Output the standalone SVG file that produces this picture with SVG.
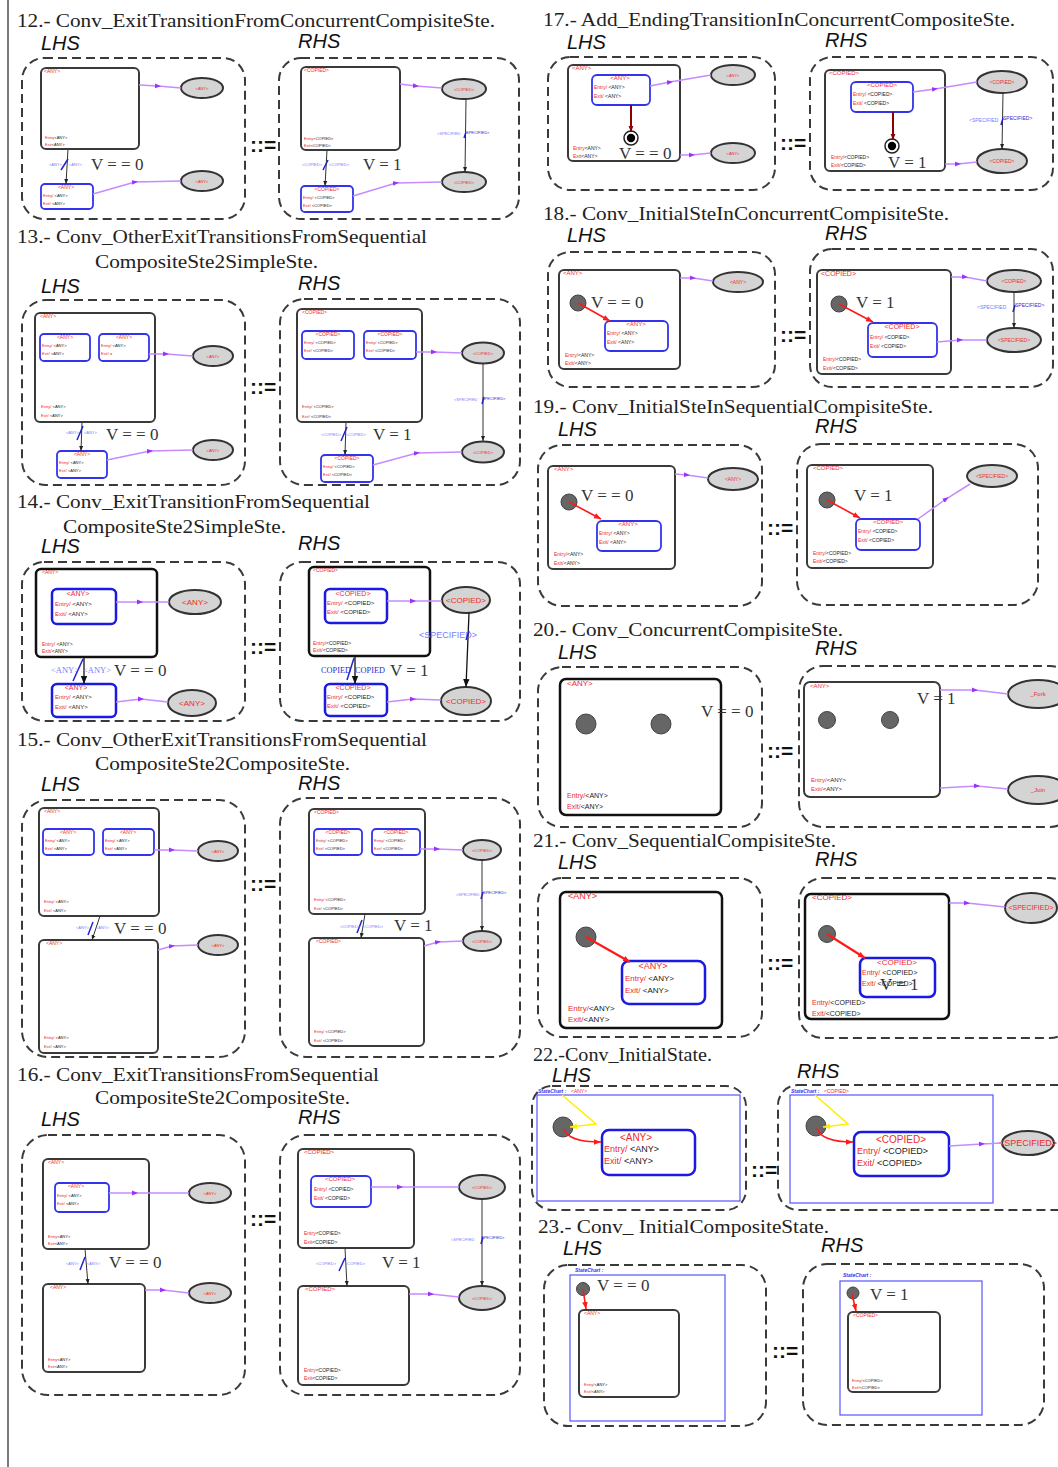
<svg xmlns="http://www.w3.org/2000/svg" width="1058" height="1467" viewBox="0 0 1058 1467">
<defs>
<style>
text{font-family:"Liberation Sans",Arial,sans-serif}
.ti{font-family:"Liberation Serif","Times New Roman",serif;font-size:19px;fill:#222}
.hs{font-style:italic;font-size:20px;fill:#111}
.v{font-family:"Liberation Serif","Times New Roman",serif;font-size:17px;fill:#333}
.eq{font-weight:bold;font-size:21px;fill:#111}
.r{fill:#ee2b2b}.k{fill:#222}.lb{fill:#7b7bff}.db{fill:#2b2bd0}
.z4{font-size:4px}.z5{font-size:5px}.z6{font-size:6px}.z7{font-size:7px}.z8{font-size:8px}.z9{font-size:9px}.z10{font-size:10px}
.c{text-anchor:middle}
.sc{font-style:italic;font-weight:bold;fill:#3333ee;font-size:5px}
.ser{font-family:"Liberation Serif",serif}
.dash{fill:none;stroke:#3a3a3a;stroke-width:2;stroke-dasharray:9 5}
.st{fill:#fff;stroke:#3a3a3a;stroke-width:2}
.stk{fill:#fff;stroke:#111;stroke-width:2.5}
.sub{fill:#fff;stroke:#3333ee;stroke-width:1.8}
.subk{fill:#fff;stroke:#1a1ae0;stroke-width:2.5}
.el{fill:#d4d4d4;stroke:#333;stroke-width:2}
.pu{fill:none;stroke:#c58bff;stroke-width:1.5;marker-mid:url(#mp)}
.bk{fill:none;stroke:#333;stroke-width:1;marker-end:url(#mb)}
.bk2{fill:none;stroke:#111;stroke-width:1.3;marker-end:url(#mb2)}
.rd{fill:none;stroke:#ff1a1a;stroke-width:1.6;marker-end:url(#mr)}
.rd2{fill:none;stroke:#ff1a1a;stroke-width:2.2;marker-end:url(#mr)}
.drd{fill:none;stroke:#8b0000;stroke-width:2;marker-end:url(#md)}
.yl{fill:none;stroke:#ffee00;stroke-width:1.5;marker-end:url(#my)}
.sl{stroke:#2222cc;stroke-width:1.5}
.ini{fill:#666;stroke:#444;stroke-width:1}
.bc{fill:none;stroke:#5555ff;stroke-width:1.2}
</style>
<marker id="mp" viewBox="0 0 10 10" refX="5" refY="5" markerWidth="6" markerHeight="6" markerUnits="userSpaceOnUse" orient="auto"><path d="M0,1 L10,5 L0,9 z" fill="#9b30ff"/></marker>
<marker id="mb" viewBox="0 0 10 10" refX="10" refY="5" markerWidth="5" markerHeight="5" markerUnits="userSpaceOnUse" orient="auto"><path d="M0,1 L10,5 L0,9 z" fill="#222"/></marker>
<marker id="mb2" viewBox="0 0 10 10" refX="10" refY="5" markerWidth="8" markerHeight="8" markerUnits="userSpaceOnUse" orient="auto"><path d="M0,1 L10,5 L0,9 z" fill="#111"/></marker>
<marker id="mr" viewBox="0 0 10 10" refX="10" refY="5" markerWidth="7" markerHeight="7" markerUnits="userSpaceOnUse" orient="auto"><path d="M0,1 L10,5 L0,9 z" fill="#ff1a1a"/></marker>
<marker id="md" viewBox="0 0 10 10" refX="10" refY="5" markerWidth="6" markerHeight="6" markerUnits="userSpaceOnUse" orient="auto"><path d="M0,1 L10,5 L0,9 z" fill="#8b0000"/></marker>
<marker id="my" viewBox="0 0 10 10" refX="10" refY="5" markerWidth="7" markerHeight="7" markerUnits="userSpaceOnUse" orient="auto"><path d="M0,1 L10,5 L0,9 z" fill="#ffee00"/></marker>
</defs>
<rect width="1058" height="1467" fill="#fff"/>
<line x1="8" y1="0" x2="8" y2="1467" stroke="#222" stroke-width="1.2"/>

<!-- ===== Rule 12 ===== -->
<g id="rule12">
<text class="ti" x="17" y="27" textLength="478" lengthAdjust="spacingAndGlyphs">12.- Conv_ExitTransitionFromConcurrentCompisiteSte.</text>
<text class="hs" x="41" y="50">LHS</text><text class="hs" x="298" y="48">RHS</text>
<rect class="dash" x="22" y="58" width="223" height="161" rx="22"/>
<rect class="dash" x="279" y="58" width="240" height="161" rx="22"/>
<text class="eq" x="250" y="152">::=</text>
<g id="r12L-state"><rect class="st" x="41" y="68" width="98" height="81" rx="5"/><text class="r z5" x="44" y="73">&lt;ANY&gt;</text><text class="z4" x="45" y="139"><tspan class="r">Entry</tspan><tspan class="k">&lt;ANY&gt;</tspan></text><text class="z4" x="45" y="146"><tspan class="r">Exit</tspan><tspan class="k">&lt;ANY&gt;</tspan></text></g>
<g id="r12L-e1"><ellipse class="el" cx="202" cy="88" rx="21" ry="10"/><text class="r z4 c" x="202" y="90">&lt;ANY&gt;</text></g>
<g id="r12L-sub"><rect class="sub" x="41" y="184" width="52" height="25" rx="4"/><text class="r z5 c" x="66" y="189">&lt;ANY&gt;</text><text class="z4" x="43" y="197"><tspan class="r">Entry/</tspan><tspan class="k"> &lt;ANY&gt;</tspan></text><text class="z4" x="43" y="205"><tspan class="r">Exit/</tspan><tspan class="k"> &lt;ANY&gt;</tspan></text></g>
<g id="r12L-e2"><ellipse class="el" cx="202" cy="181" rx="21" ry="10"/><text class="r z4 c" x="202" y="183">&lt;ANY&gt;</text></g>
<text class="v" x="91" y="170">V = = 0</text>
<g id="r12R-state"><rect class="st" x="301" y="67" width="99" height="83" rx="5"/><text class="r z5" x="304" y="72">&lt;COPIED&gt;</text><text class="z4" x="304" y="140"><tspan class="r">Entry</tspan><tspan class="k">&lt;COPIED&gt;</tspan></text><text class="z4" x="304" y="147"><tspan class="r">Exit</tspan><tspan class="k">&lt;COPIED&gt;</tspan></text></g>
<g id="r12R-e1"><ellipse class="el" cx="464" cy="89" rx="22" ry="10"/><text class="r z4 c" x="464" y="91">&lt;COPIED&gt;</text></g>
<g id="r12R-sub"><rect class="sub" x="301" y="186" width="52" height="26" rx="4"/><text class="r z5 c" x="327" y="191">&lt;COPIED&gt;</text><text class="z4" x="303" y="199"><tspan class="r">Entry/</tspan><tspan class="k"> &lt;COPIED&gt;</tspan></text><text class="z4" x="303" y="207"><tspan class="r">Exit/</tspan><tspan class="k"> &lt;COPIED&gt;</tspan></text></g>
<g id="r12R-e2"><ellipse class="el" cx="464" cy="182" rx="22" ry="10"/><text class="r z4 c" x="464" y="184">&lt;COPIED&gt;</text></g>
<text class="v" x="363" y="170">V = 1</text>
<g id="r12-conn">
<path class="pu" d="M139,85 L158,86 L181,88"/>
<path class="pu" d="M93,194 L135,182 L181,181"/>
<path class="bk" d="M68,149 L66,184"/>
<line class="sl" x1="61" y1="170" x2="68" y2="159"/>
<text class="lb z4" x="49" y="166">&lt;ANY&gt;</text><text class="lb z4" x="69" y="166">&lt;ANY&gt;</text>
<path class="pu" d="M400,84 L416,86 L442,88"/>
<path class="pu" d="M353,196 L396,183 L442,182"/>
<path class="bk" d="M327,150 L325,186"/>
<line class="sl" x1="323" y1="170" x2="328" y2="160"/>
<text class="lb z4" x="302" y="166">&lt;COPIED&gt;</text><text class="lb z4" x="329" y="166">&lt;COPIED&gt;</text>
<path class="bk" d="M466,99 L465,172"/>
<text class="lb z4" x="437" y="135">&lt;SPECIFIED</text><text class="db z4" x="466" y="134">SPECIFIED&gt;</text>
<line class="sl" x1="464" y1="138" x2="466" y2="132"/>
</g>
</g>

<!-- ===== Rule 13 ===== -->
<g id="rule13">
<text class="ti" x="17" y="243" textLength="410" lengthAdjust="spacingAndGlyphs">13.- Conv_OtherExitTransitionsFromSequential</text>
<text class="ti" x="95" y="268" textLength="223" lengthAdjust="spacingAndGlyphs">CompositeSte2SimpleSte.</text>
<text class="hs" x="41" y="293">LHS</text><text class="hs" x="298" y="290">RHS</text>
<rect class="dash" x="22" y="300" width="223" height="185" rx="24"/>
<rect class="dash" x="280" y="299" width="240" height="186" rx="24"/>
<text class="eq" x="250" y="394">::=</text>
<g id="r13L-state"><rect class="st" x="35" y="313" width="120" height="109" rx="5"/><text class="r z5" x="40" y="318">&lt;ANY&gt;</text><text class="z4" x="41" y="408"><tspan class="r">Entry/</tspan><tspan class="k"> &lt;ANY&gt;</tspan></text><text class="z4" x="41" y="417"><tspan class="r">Exit/</tspan><tspan class="k"> &lt;ANY&gt;</tspan></text></g>
<g id="r13L-sub1"><rect class="sub" x="40" y="334" width="50" height="27" rx="4"/><text class="r z5 c" x="65" y="339">&lt;ANY&gt;</text><text class="z4" x="42" y="347"><tspan class="r">Entry/</tspan><tspan class="k"> &lt;ANY&gt;</tspan></text><text class="z4" x="42" y="355"><tspan class="r">Exit/</tspan><tspan class="k"> &lt;ANY&gt;</tspan></text></g>
<g id="r13L-sub2"><rect class="sub" x="99" y="334" width="50" height="27" rx="4"/><text class="r z5 c" x="124" y="339">&lt;ANY&gt;</text><text class="z4" x="101" y="347"><tspan class="r">Entry/</tspan><tspan class="k"> &lt;ANY&gt;</tspan></text><text class="z4" x="101" y="355"><tspan class="r">Exit/</tspan><tspan class="k"> v</tspan></text></g>
<g id="r13L-e1"><ellipse class="el" cx="213" cy="356" rx="20" ry="10"/><text class="r z4 c" x="213" y="358">&lt;ANY&gt;</text></g>
<g id="r13L-sub3"><rect class="sub" x="57" y="451" width="50" height="27" rx="4"/><text class="r z5 c" x="82" y="456">&lt;ANY&gt;</text><text class="z4" x="59" y="464"><tspan class="r">Entry/</tspan><tspan class="k"> &lt;ANY&gt;</tspan></text><text class="z4" x="59" y="472"><tspan class="r">Exit/</tspan><tspan class="k"> &lt;ANY&gt;</tspan></text></g>
<g id="r13L-e2"><ellipse class="el" cx="213" cy="450" rx="20" ry="10"/><text class="r z4 c" x="213" y="452">&lt;ANY&gt;</text></g>
<text class="v" x="106" y="440">V = = 0</text>
<g id="r13R-state"><rect class="st" x="297" y="309" width="125" height="113" rx="5"/><text class="r z5" x="302" y="314">&lt;COPIED&gt;</text><text class="z4" x="302" y="408"><tspan class="r">Entry/</tspan><tspan class="k"> &lt;COPIED&gt;</tspan></text><text class="z4" x="302" y="418"><tspan class="r">Exit/</tspan><tspan class="k"> &lt;COPIED&gt;</tspan></text></g>
<g id="r13R-sub1"><rect class="sub" x="302" y="331" width="52" height="28" rx="4"/><text class="r z5 c" x="328" y="336">&lt;COPIED&gt;</text><text class="z4" x="304" y="344"><tspan class="r">Entry/</tspan><tspan class="k"> &lt;COPIED&gt;</tspan></text><text class="z4" x="304" y="352"><tspan class="r">Exit/</tspan><tspan class="k"> &lt;COPIED&gt;</tspan></text></g>
<g id="r13R-sub2"><rect class="sub" x="364" y="331" width="52" height="28" rx="4"/><text class="r z5 c" x="390" y="336">&lt;COPIED&gt;</text><text class="z4" x="366" y="344"><tspan class="r">Entry/</tspan><tspan class="k"> &lt;COPIED&gt;</tspan></text><text class="z4" x="366" y="352"><tspan class="r">Exit/</tspan><tspan class="k"> &lt;COPIED&gt;</tspan></text></g>
<g id="r13R-e1"><ellipse class="el" cx="483" cy="353" rx="21" ry="10.5"/><text class="r z4 c" x="483" y="355">&lt;COPIED&gt;</text></g>
<g id="r13R-sub3"><rect class="sub" x="321" y="455" width="52" height="27" rx="4"/><text class="r z5 c" x="347" y="460">&lt;COPIED&gt;</text><text class="z4" x="323" y="468"><tspan class="r">Entry/</tspan><tspan class="k"> &lt;COPIED&gt;</tspan></text><text class="z4" x="323" y="476"><tspan class="r">Exit/</tspan><tspan class="k"> &lt;COPIED&gt;</tspan></text></g>
<g id="r13R-e2"><ellipse class="el" cx="483" cy="452" rx="21" ry="10.5"/><text class="r z4 c" x="483" y="454">&lt;COPIED&gt;</text></g>
<text class="v" x="373" y="440">V = 1</text>
<g id="r13-conn">
<path class="pu" d="M149,354 L166,354 L193,356"/>
<path class="pu" d="M107,460 L150,451 L193,450"/>
<path class="bk" d="M82,422 L81,451"/>
<line class="sl" x1="77" y1="440" x2="83" y2="426"/>
<text class="lb z4" x="66" y="434">&lt;ANY&gt;</text><text class="lb z4" x="84" y="434">&lt;ANY&gt;</text>
<path class="pu" d="M416,352 L434,352 L462,353"/>
<path class="pu" d="M373,465 L417,453 L462,452"/>
<path class="bk" d="M346,422 L345,455"/>
<line class="sl" x1="341" y1="441" x2="347" y2="427"/>
<text class="lb z4" x="321" y="436">&lt;COPIED&gt;</text><text class="lb z4" x="346" y="436">&lt;COPIED&gt;</text>
<path class="bk" d="M483,364 L483,441"/>
<text class="lb z4" x="454" y="401">&lt;SPECIFIED</text><text class="db z4" x="482" y="400">SPECIFIED&gt;</text>
<line class="sl" x1="482" y1="404" x2="484" y2="397"/>
</g>
</g>

<!-- ===== Rule 14 ===== -->
<g id="rule14">
<text class="ti" x="17" y="508" textLength="353" lengthAdjust="spacingAndGlyphs">14.- Conv_ExitTransitionFromSequential</text>
<text class="ti" x="63" y="533" textLength="223" lengthAdjust="spacingAndGlyphs">CompositeSte2SimpleSte.</text>
<text class="hs" x="41" y="553">LHS</text><text class="hs" x="298" y="550">RHS</text>
<rect class="dash" x="22" y="562" width="223" height="159" rx="22"/>
<rect class="dash" x="280" y="562" width="240" height="159" rx="22"/>
<text class="eq" x="250" y="654">::=</text>
<g id="r14L-state"><rect class="stk" x="36" y="569" width="121" height="88" rx="5"/><text class="r z5" x="42" y="574">&lt;ANY&gt;</text><text class="z5" x="42" y="646"><tspan class="r">Entry/</tspan><tspan class="k"> &lt;ANY&gt;</tspan></text><text class="z5" x="42" y="653"><tspan class="r">Exit/</tspan><tspan class="k">&lt;ANY&gt;</tspan></text></g>
<g id="r14L-sub1"><rect class="subk" x="52" y="589" width="64" height="35" rx="5"/><text class="r z7 c" x="78" y="596">&lt;ANY&gt;</text><text class="z6" x="55" y="606"><tspan class="r">Entry/</tspan><tspan class="k">  &lt;ANY&gt;</tspan></text><text class="z6" x="55" y="616"><tspan class="r">Exit/</tspan><tspan class="k"> &lt;ANY&gt;</tspan></text></g>
<g id="r14L-e1"><ellipse class="el" cx="195" cy="602" rx="26" ry="12"/><text class="r z8 c" x="195" y="605">&lt;ANY&gt;</text></g>
<g id="r14L-sub2"><rect class="subk" x="52" y="684" width="64" height="33" rx="5"/><text class="r z7 c" x="76" y="690">&lt;ANY&gt;</text><text class="z6" x="55" y="699"><tspan class="r">Entry/</tspan><tspan class="k">  &lt;ANY&gt;</tspan></text><text class="z6" x="55" y="709"><tspan class="r">Exit/</tspan><tspan class="k">  &lt;ANY&gt;</tspan></text></g>
<g id="r14L-e2"><ellipse class="el" cx="192" cy="703" rx="24" ry="13"/><text class="r z8 c" x="192" y="706">&lt;ANY&gt;</text></g>
<text class="v" x="114" y="676">V = = 0</text>
<g id="r14R-state"><rect class="stk" x="309" y="567" width="121" height="89" rx="5"/><text class="r z5" x="313" y="572">&lt;COPIED&gt;</text><text class="z5" x="313" y="645"><tspan class="r">Entry/</tspan><tspan class="k">&lt;COPIED&gt;</tspan></text><text class="z5" x="313" y="652"><tspan class="r">Exit/</tspan><tspan class="k">&lt;COPIED&gt;</tspan></text></g>
<g id="r14R-sub1"><rect class="subk" x="325" y="589" width="62" height="34" rx="5"/><text class="r z7 c" x="353" y="596">&lt;COPIED&gt;</text><text class="z6" x="327" y="605"><tspan class="r">Entry/</tspan><tspan class="k"> &lt;COPIED&gt;</tspan></text><text class="z6" x="327" y="614"><tspan class="r">Exit/</tspan><tspan class="k"> &lt;COPIED&gt;</tspan></text></g>
<g id="r14R-e1"><ellipse class="el" cx="466" cy="600" rx="24" ry="13"/><text class="r z8 c" x="466" y="603">&lt;COPIED&gt;</text></g>
<g id="r14R-sub2"><rect class="subk" x="325" y="684" width="62" height="32" rx="5"/><text class="r z7 c" x="353" y="690">&lt;COPIED&gt;</text><text class="z6" x="327" y="699"><tspan class="r">Entry/</tspan><tspan class="k"> &lt;COPIED&gt;</tspan></text><text class="z6" x="327" y="708"><tspan class="r">Exit/</tspan><tspan class="k"> &lt;COPIED&gt;</tspan></text></g>
<g id="r14R-e2"><ellipse class="el" cx="466" cy="701" rx="25" ry="14"/><text class="r z8 c" x="466" y="704">&lt;COPIED&gt;</text></g>
<text class="v" x="390" y="676">V = 1</text>
<g id="r14-conn">
<path class="pu" d="M116,602 L140,602 L169,602"/>
<path class="pu" d="M116,702 L141,699 L168,702"/>
<path class="bk2" d="M84,657 L84,684"/>
<line class="sl" x1="73" y1="681" x2="83" y2="659" stroke-width="2"/>
<text class="lb z9 ser" x="51" y="673" textLength="28" lengthAdjust="spacingAndGlyphs">&lt;ANY&gt;</text><text class="lb z9 ser" x="83" y="673" textLength="28" lengthAdjust="spacingAndGlyphs">&lt;ANY&gt;</text>
<path class="pu" d="M387,601 L413,601 L442,601"/>
<path class="pu" d="M387,702 L413,699 L441,700"/>
<path class="bk2" d="M355,656 L355,684"/>
<line class="sl" x1="347" y1="680" x2="354" y2="658" stroke-width="2"/>
<text class="db z9 ser" x="321" y="673" textLength="30" lengthAdjust="spacingAndGlyphs">COPIED</text><text class="db z9 ser" x="355" y="673" textLength="30" lengthAdjust="spacingAndGlyphs">COPIED</text>
<path class="bk2" d="M469,613 L466,687"/>
<text class="lb z9" x="419" y="638">&lt;SPECIFIED&gt;</text>
<line class="sl" x1="466" y1="640" x2="469" y2="631"/>
</g>
</g>

<!-- ===== Rule 15 ===== -->
<g id="rule15">
<text class="ti" x="17" y="746" textLength="410" lengthAdjust="spacingAndGlyphs">15.- Conv_OtherExitTransitionsFromSequential</text>
<text class="ti" x="95" y="770" textLength="255" lengthAdjust="spacingAndGlyphs">CompositeSte2CompositeSte.</text>
<text class="hs" x="41" y="791">LHS</text><text class="hs" x="298" y="790">RHS</text>
<rect class="dash" x="22" y="800" width="223" height="257" rx="26"/>
<rect class="dash" x="280" y="798" width="240" height="259" rx="26"/>
<text class="eq" x="250" y="891">::=</text>
<g id="r15L-state1"><rect class="st" x="39" y="808" width="120" height="108" rx="5"/><text class="r z5" x="44" y="813">&lt;ANY&gt;</text><text class="z4" x="44" y="903"><tspan class="r">Entry/</tspan><tspan class="k"> &lt;ANY&gt;</tspan></text><text class="z4" x="44" y="912"><tspan class="r">Exit/</tspan><tspan class="k"> &lt;ANY&gt;</tspan></text></g>
<g id="r15L-sub1"><rect class="sub" x="43" y="829" width="51" height="26" rx="4"/><text class="r z5 c" x="68" y="834">&lt;ANY&gt;</text><text class="z4" x="45" y="842"><tspan class="r">Entry/</tspan><tspan class="k"> &lt;ANY&gt;</tspan></text><text class="z4" x="45" y="850"><tspan class="r">Exit/</tspan><tspan class="k"> &lt;ANY&gt;</tspan></text></g>
<g id="r15L-sub2"><rect class="sub" x="103" y="829" width="51" height="26" rx="4"/><text class="r z5 c" x="128" y="834">&lt;ANY&gt;</text><text class="z4" x="105" y="842"><tspan class="r">Entry/</tspan><tspan class="k"> &lt;ANY&gt;</tspan></text><text class="z4" x="105" y="850"><tspan class="r">Exit/</tspan><tspan class="k"> &lt;ANY&gt;</tspan></text></g>
<g id="r15L-e1"><ellipse class="el" cx="218" cy="851" rx="20" ry="10"/><text class="r z4 c" x="218" y="853">&lt;ANY&gt;</text></g>
<g id="r15L-state2"><rect class="st" x="39" y="940" width="119" height="113" rx="5"/><text class="r z5" x="46" y="945">&lt;ANY&gt;</text><text class="z4" x="44" y="1039"><tspan class="r">Entry/</tspan><tspan class="k"> &lt;ANY&gt;</tspan></text><text class="z4" x="44" y="1048"><tspan class="r">Exit/</tspan><tspan class="k"> &lt;ANY&gt;</tspan></text></g>
<g id="r15L-e2"><ellipse class="el" cx="218" cy="945" rx="20" ry="10"/><text class="r z4 c" x="218" y="947">&lt;ANY&gt;</text></g>
<text class="v" x="114" y="934">V = = 0</text>
<g id="r15R-state1"><rect class="st" x="309" y="809" width="116" height="105" rx="5"/><text class="r z5" x="314" y="814">&lt;COPIED&gt;</text><text class="z4" x="314" y="901"><tspan class="r">Entry/</tspan><tspan class="k"> &lt;COPIED&gt;</tspan></text><text class="z4" x="314" y="910"><tspan class="r">Exit/</tspan><tspan class="k"> &lt;COPIED&gt;</tspan></text></g>
<g id="r15R-sub1"><rect class="sub" x="314" y="829" width="48" height="26" rx="4"/><text class="r z5 c" x="338" y="834">&lt;COPIED&gt;</text><text class="z4" x="316" y="842"><tspan class="r">Entry/</tspan><tspan class="k"> &lt;COPIED&gt;</tspan></text><text class="z4" x="316" y="850"><tspan class="r">Exit/</tspan><tspan class="k"> &lt;COPIED&gt;</tspan></text></g>
<g id="r15R-sub2"><rect class="sub" x="372" y="829" width="48" height="26" rx="4"/><text class="r z5 c" x="396" y="834">&lt;COPIED&gt;</text><text class="z4" x="374" y="842"><tspan class="r">Entry/</tspan><tspan class="k"> &lt;COPIED&gt;</tspan></text><text class="z4" x="374" y="850"><tspan class="r">Exit/</tspan><tspan class="k"> &lt;COPIED&gt;</tspan></text></g>
<g id="r15R-e1"><ellipse class="el" cx="482" cy="850" rx="19" ry="10"/><text class="r z4 c" x="482" y="852">&lt;COPIED&gt;</text></g>
<g id="r15R-state2"><rect class="st" x="309" y="938" width="115" height="108" rx="5"/><text class="r z5" x="316" y="943">&lt;COPIED&gt;</text><text class="z4" x="314" y="1033"><tspan class="r">Entry/</tspan><tspan class="k"> &lt;COPIED&gt;</tspan></text><text class="z4" x="314" y="1042"><tspan class="r">Exit/</tspan><tspan class="k"> &lt;COPIED&gt;</tspan></text></g>
<g id="r15R-e2"><ellipse class="el" cx="482" cy="941" rx="19" ry="10"/><text class="r z4 c" x="482" y="943">&lt;COPIED&gt;</text></g>
<text class="v" x="394" y="931">V = 1</text>
<g id="r15-conn">
<path class="pu" d="M154,850 L172,850 L198,851"/>
<path class="pu" d="M158,950 L172,946 L198,945"/>
<path class="bk" d="M100,916 L92,940"/>
<line class="sl" x1="88" y1="935" x2="93" y2="922"/>
<text class="lb z4" x="76" y="929">&lt;ANY&gt;</text><text class="lb z4" x="96" y="929">&lt;ANY&gt;</text>
<path class="pu" d="M420,849 L437,849 L463,850"/>
<path class="pu" d="M424,946 L438,942 L463,941"/>
<path class="bk" d="M365,914 L361,938"/>
<line class="sl" x1="357" y1="933" x2="362" y2="920"/>
<text class="lb z4" x="340" y="928">&lt;COPIED&gt;</text><text class="lb z4" x="363" y="928">&lt;COPIED&gt;</text>
<path class="bk" d="M482,860 L482,931"/>
<text class="lb z4" x="456" y="896">&lt;SPECIFIED</text><text class="db z4" x="483" y="894">SPECIFIED&gt;</text>
<line class="sl" x1="481" y1="899" x2="483" y2="892"/>
</g>
</g>

<!-- ===== Rule 16 ===== -->
<g id="rule16">
<text class="ti" x="17" y="1081" textLength="362" lengthAdjust="spacingAndGlyphs">16.- Conv_ExitTransitionsFromSequential</text>
<text class="ti" x="95" y="1104" textLength="255" lengthAdjust="spacingAndGlyphs">CompositeSte2CompositeSte.</text>
<text class="hs" x="41" y="1126">LHS</text><text class="hs" x="298" y="1124">RHS</text>
<rect class="dash" x="22" y="1135" width="223" height="260" rx="26"/>
<rect class="dash" x="280" y="1135" width="240" height="260" rx="26"/>
<text class="eq" x="250" y="1226">::=</text>
<g id="r16L-state1"><rect class="st" x="43" y="1159" width="106" height="90" rx="5"/><text class="r z5" x="48" y="1164">&lt;ANY&gt;</text><text class="z4" x="48" y="1238"><tspan class="r">Entry</tspan><tspan class="k">&lt;ANY&gt;</tspan></text><text class="z4" x="48" y="1245"><tspan class="r">Exit</tspan><tspan class="k">&lt;ANY&gt;</tspan></text></g>
<g id="r16L-sub"><rect class="sub" x="55" y="1183" width="54" height="29" rx="4"/><text class="r z5 c" x="76" y="1188">&lt;ANY&gt;</text><text class="z4" x="57" y="1197"><tspan class="r">Entry/</tspan><tspan class="k">  &lt;ANY&gt;</tspan></text><text class="z4" x="57" y="1205"><tspan class="r">Exit/</tspan><tspan class="k"> &lt;ANY&gt;</tspan></text></g>
<g id="r16L-e1"><ellipse class="el" cx="210" cy="1193" rx="21" ry="10"/><text class="r z4 c" x="210" y="1195">&lt;ANY&gt;</text></g>
<g id="r16L-state2"><rect class="st" x="43" y="1284" width="102" height="88" rx="5"/><text class="r z5" x="50" y="1289">&lt;ANY&gt;</text><text class="z4" x="48" y="1361"><tspan class="r">Entry</tspan><tspan class="k">&lt;ANY&gt;</tspan></text><text class="z4" x="48" y="1368"><tspan class="r">Exit</tspan><tspan class="k">&lt;ANY&gt;</tspan></text></g>
<g id="r16L-e2"><ellipse class="el" cx="210" cy="1293" rx="21" ry="10"/><text class="r z4 c" x="210" y="1295">&lt;ANY&gt;</text></g>
<text class="v" x="109" y="1268">V = = 0</text>
<g id="r16R-state1"><rect class="st" x="298" y="1149" width="116" height="99" rx="5"/><text class="r z6" x="304" y="1154">&lt;COPIED&gt;</text><text class="z5" x="304" y="1235"><tspan class="r">Entry</tspan><tspan class="k">&lt;COPIED&gt;</tspan></text><text class="z5" x="304" y="1244"><tspan class="r">Exit</tspan><tspan class="k">&lt;COPIED&gt;</tspan></text></g>
<g id="r16R-sub"><rect class="sub" x="311" y="1176" width="60" height="31" rx="5"/><text class="r z6 c" x="340" y="1181">&lt;COPIED&gt;</text><text class="z5" x="314" y="1191"><tspan class="r">Entry/</tspan><tspan class="k">  &lt;COPIED&gt;</tspan></text><text class="z5" x="314" y="1200"><tspan class="r">Exit/</tspan><tspan class="k">  &lt;COPIED&gt;</tspan></text></g>
<g id="r16R-e1"><ellipse class="el" cx="482" cy="1187" rx="23" ry="12"/><text class="r z4 c" x="482" y="1189">&lt;COPIED&gt;</text></g>
<g id="r16R-state2"><rect class="st" x="298" y="1286" width="111" height="99" rx="5"/><text class="r z6" x="305" y="1291">&lt;COPIED&gt;</text><text class="z5" x="304" y="1372"><tspan class="r">Entry</tspan><tspan class="k">&lt;COPIED&gt;</tspan></text><text class="z5" x="304" y="1380"><tspan class="r">Exit</tspan><tspan class="k">&lt;COPIED&gt;</tspan></text></g>
<g id="r16R-e2"><ellipse class="el" cx="482" cy="1298" rx="23" ry="12"/><text class="r z4 c" x="482" y="1300">&lt;COPIED&gt;</text></g>
<text class="v" x="382" y="1268">V = 1</text>
<g id="r16-conn">
<path class="pu" d="M109,1193 L135,1193 L189,1193"/>
<path class="pu" d="M145,1290 L163,1290 L189,1293"/>
<path class="bk" d="M85,1249 L88,1284"/>
<line class="sl" x1="80" y1="1270" x2="85" y2="1257"/>
<text class="lb z4" x="66" y="1265">&lt;ANY&gt;</text><text class="lb z4" x="87" y="1265">&lt;ANY&gt;</text>
<path class="pu" d="M371,1187 L400,1187 L459,1187"/>
<path class="pu" d="M409,1294 L431,1294 L459,1297"/>
<path class="bk" d="M345,1248 L347,1286"/>
<line class="sl" x1="339" y1="1271" x2="345" y2="1258"/>
<text class="lb z4" x="316" y="1265">&lt;COPIED&gt;</text><text class="lb z4" x="345" y="1265">&lt;COPIED&gt;</text>
<path class="bk" d="M482,1199 L482,1286"/>
<text class="lb z4" x="451" y="1241">&lt;SPECIFIED</text><text class="db z4" x="481" y="1239">SPECIFIED&gt;</text>
<line class="sl" x1="481" y1="1244" x2="483" y2="1237"/>
</g>
</g>

<!-- ===== Rule 17 ===== -->
<g id="rule17">
<text class="ti" x="543" y="26" textLength="472" lengthAdjust="spacingAndGlyphs">17.- Add_EndingTransitionInConcurrentCompositeSte.</text>
<text class="hs" x="567" y="49">LHS</text><text class="hs" x="825" y="47">RHS</text>
<rect class="dash" x="548" y="57" width="227" height="133" rx="22"/>
<rect class="dash" x="810" y="57" width="243" height="133" rx="22"/>
<text class="eq" x="780" y="150">::=</text>
<g id="r17L-state"><rect class="st" x="568" y="65" width="112" height="96" rx="5"/><text class="r z6" x="572" y="70">&lt;ANY&gt;</text><text class="z5" x="573" y="150"><tspan class="r">Entry</tspan><tspan class="k">&lt;ANY&gt;</tspan></text><text class="z5" x="573" y="158"><tspan class="r">Exit</tspan><tspan class="k">&lt;ANY&gt;</tspan></text></g>
<g id="r17L-sub"><rect class="sub" x="592" y="75" width="58" height="30" rx="5"/><text class="r z6 c" x="620" y="80">&lt;ANY&gt;</text><text class="z5" x="594" y="89"><tspan class="r">Entry/</tspan><tspan class="k">  &lt;ANY&gt;</tspan></text><text class="z5" x="594" y="98"><tspan class="r">Exit/</tspan><tspan class="k"> &lt;ANY&gt;</tspan></text></g>
<g id="r17L-final"><circle cx="631" cy="138" r="7" fill="#fff" stroke="#222" stroke-width="1.5"/><circle cx="631" cy="138" r="4.2" fill="#000"/></g>
<g id="r17L-e1"><ellipse class="el" cx="733" cy="75" rx="22" ry="10"/><text class="r z4 c" x="733" y="77">&lt;ANY&gt;</text></g>
<g id="r17L-e2"><ellipse class="el" cx="733" cy="153" rx="22" ry="10"/><text class="r z4 c" x="733" y="155">&lt;ANY&gt;</text></g>
<text class="v" x="619" y="159">V = = 0</text>
<g id="r17R-state"><rect class="st" x="825" y="70" width="120" height="101" rx="5"/><text class="r z6" x="829" y="75">&lt;COPIED&gt;</text><text class="z5" x="831" y="159"><tspan class="r">Entry/</tspan><tspan class="k">&lt;COPIED&gt;</tspan></text><text class="z5" x="831" y="167"><tspan class="r">Exit/</tspan><tspan class="k">&lt;COPIED&gt;</tspan></text></g>
<g id="r17R-sub"><rect class="sub" x="851" y="82" width="62" height="30" rx="5"/><text class="r z6 c" x="882" y="87">&lt;COPIED&gt;</text><text class="z5" x="853" y="96"><tspan class="r">Entry/</tspan><tspan class="k">  &lt;COPIED&gt;</tspan></text><text class="z5" x="853" y="105"><tspan class="r">Exit/</tspan><tspan class="k"> &lt;COPIED&gt;</tspan></text></g>
<g id="r17R-final"><circle cx="892" cy="146" r="7" fill="#fff" stroke="#222" stroke-width="1.5"/><circle cx="892" cy="146" r="4.2" fill="#000"/></g>
<g id="r17R-e1"><ellipse class="el" cx="1002" cy="82" rx="25" ry="11"/><text class="r z5 c" x="1002" y="84">&lt;COPIED&gt;</text></g>
<g id="r17R-e2"><ellipse class="el" cx="1002" cy="161" rx="25" ry="12"/><text class="r z5 c" x="1002" y="163">&lt;COPIED&gt;</text></g>
<text class="v" x="888" y="168">V = 1</text>
<g id="r17-conn">
<path class="drd" d="M631,105 L631,132"/>
<path class="pu" d="M650,86 L670,82 L711,75"/>
<path class="pu" d="M680,155 L692,155 L711,153"/>
<path class="drd" d="M893,112 L893,140"/>
<path class="pu" d="M913,92 L935,89 L977,82"/>
<path class="pu" d="M945,164 L958,164 L977,162"/>
<path class="bk" d="M1003,93 L1002,149"/>
<text class="lb z5" x="969" y="122">&lt;SPECIFIED</text><text class="db z5" x="1003" y="120">SPECIFIED&gt;</text>
<line class="sl" x1="1001" y1="125" x2="1003" y2="118"/>
</g>
</g>

<!-- ===== Rule 18 ===== -->
<g id="rule18">
<text class="ti" x="543" y="220" textLength="406" lengthAdjust="spacingAndGlyphs">18.- Conv_InitialSteInConcurrentCompisiteSte.</text>
<text class="hs" x="567" y="242">LHS</text><text class="hs" x="825" y="240">RHS</text>
<rect class="dash" x="548" y="252" width="227" height="135" rx="22"/>
<rect class="dash" x="810" y="249" width="243" height="138" rx="22"/>
<text class="eq" x="780" y="342">::=</text>
<g id="r18L-state"><rect class="st" x="559" y="270" width="121" height="99" rx="5"/><text class="r z6" x="563" y="275">&lt;ANY&gt;</text><text class="z5" x="565" y="357"><tspan class="r">Entry/</tspan><tspan class="k">&lt;ANY&gt;</tspan></text><text class="z5" x="565" y="365"><tspan class="r">Exit/</tspan><tspan class="k">&lt;ANY&gt;</tspan></text></g>
<g id="r18L-init"><circle class="ini" cx="578" cy="303" r="8"/></g>
<g id="r18L-sub"><rect class="sub" x="605" y="321" width="63" height="30" rx="5"/><text class="r z6 c" x="636" y="326">&lt;ANY&gt;</text><text class="z5" x="607" y="335"><tspan class="r">Entry/</tspan><tspan class="k">  &lt;ANY&gt;</tspan></text><text class="z5" x="607" y="344"><tspan class="r">Exit/</tspan><tspan class="k">  &lt;ANY&gt;</tspan></text></g>
<g id="r18L-e1"><ellipse class="el" cx="738" cy="282" rx="25" ry="10"/><text class="r z5 c" x="738" y="284">&lt;ANY&gt;</text></g>
<text class="v" x="591" y="308">V = = 0</text>
<g id="r18R-state"><rect class="st" x="817" y="270" width="134" height="104" rx="5"/><text class="r z7" x="821" y="276">&lt;COPIED&gt;</text><text class="z5" x="823" y="361"><tspan class="r">Entry/</tspan><tspan class="k">&lt;COPIED&gt;</tspan></text><text class="z5" x="823" y="370"><tspan class="r">Exit/</tspan><tspan class="k">&lt;COPIED&gt;</tspan></text></g>
<g id="r18R-init"><circle class="ini" cx="839" cy="304" r="8"/></g>
<g id="r18R-sub"><rect class="sub" x="868" y="323" width="69" height="34" rx="5"/><text class="r z7 c" x="902" y="329">&lt;COPIED&gt;</text><text class="z5" x="870" y="339"><tspan class="r">Entry/</tspan><tspan class="k">  &lt;COPIED&gt;</tspan></text><text class="z5" x="870" y="348"><tspan class="r">Exit/</tspan><tspan class="k">  &lt;COPIED&gt;</tspan></text></g>
<g id="r18R-e1"><ellipse class="el" cx="1014" cy="281" rx="27" ry="11"/><text class="r z5 c" x="1014" y="283">&lt;COPIED&gt;</text></g>
<g id="r18R-e2"><ellipse class="el" cx="1014" cy="340" rx="27" ry="12"/><text class="r z5 c" x="1014" y="342">&lt;SPECIFIED&gt;</text></g>
<text class="v" x="856" y="308">V = 1</text>
<g id="r18-conn">
<path class="rd" d="M578,303 L610,321"/>
<path class="pu" d="M680,278 L693,278 L713,281"/>
<path class="rd" d="M839,304 L873,322"/>
<path class="pu" d="M951,277 L965,277 L987,281"/>
<path class="pu" d="M937,342 L960,340 L987,340"/>
<path class="bk" d="M1014,292 L1014,328"/>
<text class="lb z5" x="977" y="309">&lt;SPECIFIED</text><text class="db z5" x="1015" y="307">SPECIFIED&gt;</text>
<line class="sl" x1="1013" y1="312" x2="1015" y2="305"/>
</g>
</g>

<!-- ===== Rule 19 ===== -->
<g id="rule19">
<text class="ti" x="533" y="413" textLength="400" lengthAdjust="spacingAndGlyphs">19.- Conv_InitialSteInSequentialCompisiteSte.</text>
<text class="hs" x="558" y="436">LHS</text><text class="hs" x="815" y="433">RHS</text>
<rect class="dash" x="538" y="445" width="224" height="161" rx="24"/>
<rect class="dash" x="797" y="444" width="241" height="161" rx="24"/>
<text class="eq" x="767" y="535">::=</text>
<g id="r19L-state"><rect class="st" x="548" y="466" width="127" height="103" rx="5"/><text class="r z6" x="554" y="471">&lt;ANY&gt;</text><text class="z5" x="554" y="556"><tspan class="r">Entry/</tspan><tspan class="k">&lt;ANY&gt;</tspan></text><text class="z5" x="554" y="565"><tspan class="r">Exit/</tspan><tspan class="k">&lt;ANY&gt;</tspan></text></g>
<g id="r19L-init"><circle class="ini" cx="569" cy="502" r="8"/></g>
<g id="r19L-sub"><rect class="sub" x="597" y="521" width="64" height="30" rx="5"/><text class="r z6 c" x="628" y="526">&lt;ANY&gt;</text><text class="z5" x="599" y="535"><tspan class="r">Entry/</tspan><tspan class="k">  &lt;ANY&gt;</tspan></text><text class="z5" x="599" y="544"><tspan class="r">Exit/</tspan><tspan class="k">  &lt;ANY&gt;</tspan></text></g>
<g id="r19L-e1"><ellipse class="el" cx="733" cy="479" rx="25" ry="11"/><text class="r z5 c" x="733" y="481">&lt;ANY&gt;</text></g>
<text class="v" x="581" y="501">V = = 0</text>
<g id="r19R-state"><rect class="st" x="807" y="465" width="126" height="103" rx="5"/><text class="r z6" x="813" y="470">&lt;COPIED&gt;</text><text class="z5" x="813" y="555"><tspan class="r">Entry/</tspan><tspan class="k">&lt;COPIED&gt;</tspan></text><text class="z5" x="813" y="563"><tspan class="r">Exit/</tspan><tspan class="k">&lt;COPIED&gt;</tspan></text></g>
<g id="r19R-init"><circle class="ini" cx="827" cy="500" r="8"/></g>
<g id="r19R-sub"><rect class="sub" x="856" y="519" width="64" height="31" rx="5"/><text class="r z6 c" x="888" y="524">&lt;COPIED&gt;</text><text class="z5" x="858" y="533"><tspan class="r">Entry/</tspan><tspan class="k">  &lt;COPIED&gt;</tspan></text><text class="z5" x="858" y="542"><tspan class="r">Exit/</tspan><tspan class="k">  &lt;COPIED&gt;</tspan></text></g>
<g id="r19R-e1"><ellipse class="el" cx="992" cy="476" rx="25" ry="11"/><text class="r z5 c" x="992" y="478">&lt;SPECIFIED&gt;</text></g>
<text class="v" x="854" y="501">V = 1</text>
<g id="r19-conn">
<path class="rd" d="M569,502 L601,519"/>
<path class="pu" d="M675,474 L687,475 L708,478"/>
<path class="rd" d="M827,500 L860,518"/>
<path class="pu" d="M918,519 L946,499 L970,484"/>
</g>
</g>

<!-- ===== Rule 20 ===== -->
<g id="rule20">
<text class="ti" x="533" y="636" textLength="310" lengthAdjust="spacingAndGlyphs">20.- Conv_ConcurrentCompisiteSte.</text>
<text class="hs" x="558" y="659">LHS</text><text class="hs" x="815" y="655">RHS</text>
<rect class="dash" x="538" y="667" width="224" height="160" rx="24"/>
<rect class="dash" x="799" y="666" width="275" height="161" rx="24"/>
<text class="eq" x="767" y="758">::=</text>
<g id="r20L-state"><rect class="stk" x="560" y="679" width="161" height="136" rx="6"/><text class="r z8" x="567" y="686">&lt;ANY&gt;</text><text class="z7" x="567" y="798"><tspan class="r">Entry/</tspan><tspan class="k">&lt;ANY&gt;</tspan></text><text class="z7" x="567" y="809"><tspan class="r">Exit/</tspan><tspan class="k">&lt;ANY&gt;</tspan></text></g>
<g id="r20L-init1"><circle class="ini" cx="586" cy="724" r="10"/></g>
<g id="r20L-init2"><circle class="ini" cx="661" cy="724" r="10"/></g>
<text class="v" x="701" y="717">V = = 0</text>
<g id="r20R-state"><rect class="st" x="804" y="682" width="136" height="115" rx="6"/><text class="r z6" x="810" y="688">&lt;ANY&gt;</text><text class="z6" x="811" y="782"><tspan class="r">Entry/</tspan><tspan class="k">&lt;ANY&gt;</tspan></text><text class="z6" x="811" y="791"><tspan class="r">Exit/</tspan><tspan class="k">&lt;ANY&gt;</tspan></text></g>
<g id="r20R-init1"><circle class="ini" cx="827" cy="720" r="8.5"/></g>
<g id="r20R-init2"><circle class="ini" cx="890" cy="720" r="8.5"/></g>
<g id="r20R-fork"><ellipse class="el" cx="1038" cy="694" rx="30" ry="14"/><text class="r z6 c" x="1038" y="696">_Fork</text></g>
<g id="r20R-join"><ellipse class="el" cx="1038" cy="790" rx="30" ry="14"/><text class="r z6 c" x="1038" y="792">_Join</text></g>
<text class="v" x="917" y="704">V = 1</text>
<g id="r20-conn">
<path class="pu" d="M940,690 L975,690 L1008,694"/>
<path class="pu" d="M940,788 L977,786 L1008,789"/>
</g>
</g>

<!-- ===== Rule 21 ===== -->
<g id="rule21">
<text class="ti" x="533" y="847" textLength="303" lengthAdjust="spacingAndGlyphs">21.- Conv_SequentialCompisiteSte.</text>
<text class="hs" x="558" y="869">LHS</text><text class="hs" x="815" y="866">RHS</text>
<rect class="dash" x="538" y="878" width="224" height="159" rx="24"/>
<rect class="dash" x="799" y="878" width="275" height="160" rx="24"/>
<text class="eq" x="767" y="970">::=</text>
<g id="r21L-state"><rect class="stk" x="560" y="892" width="162" height="136" rx="6"/><text class="r z9" x="568" y="899">&lt;ANY&gt;</text><text class="z8" x="568" y="1011"><tspan class="r">Entry/</tspan><tspan class="k">&lt;ANY&gt;</tspan></text><text class="z8" x="568" y="1022"><tspan class="r">Exit/</tspan><tspan class="k">&lt;ANY&gt;</tspan></text></g>
<g id="r21L-init"><circle class="ini" cx="586" cy="937" r="10"/></g>
<g id="r21L-sub"><rect class="subk" x="622" y="961" width="83" height="43" rx="7"/><text class="r z9 c" x="653" y="969">&lt;ANY&gt;</text><text class="z8" x="625" y="981"><tspan class="r">Entry/</tspan><tspan class="k">  &lt;ANY&gt;</tspan></text><text class="z8" x="625" y="993"><tspan class="r">Exit/</tspan><tspan class="k">  &lt;ANY&gt;</tspan></text></g>
<g id="r21R-state"><rect class="stk" x="805" y="894" width="144" height="125" rx="6"/><text class="r z8" x="812" y="900">&lt;COPIED&gt;</text><text class="z7" x="812" y="1005"><tspan class="r">Entry/</tspan><tspan class="k">&lt;COPIED&gt;</tspan></text><text class="z7" x="812" y="1016"><tspan class="r">Exit/</tspan><tspan class="k">&lt;COPIED&gt;</tspan></text></g>
<g id="r21R-init"><circle class="ini" cx="827" cy="934" r="8.5"/></g>
<g id="r21R-sub"><rect class="subk" x="860" y="958" width="75" height="39" rx="6"/><text class="r z8 c" x="897" y="965">&lt;COPIED&gt;</text><text class="z7" x="862" y="975"><tspan class="r">Entry/</tspan><tspan class="k">  &lt;COPIED&gt;</tspan></text><text class="z7" x="862" y="986"><tspan class="r">Exit/</tspan><tspan class="k">  &lt;COPIED&gt;</tspan></text><text class="v" x="880" y="990">V = 1</text></g>
<g id="r21R-e1"><ellipse class="el" cx="1031" cy="908" rx="26" ry="15"/><text class="r z7 c" x="1031" y="910">&lt;SPECIFIED&gt;</text></g>
<g id="r21-conn">
<path class="rd2" d="M586,937 L630,962"/>
<path class="rd2" d="M827,934 L865,958"/>
<path class="pu" d="M949,903 L967,903 L1005,907"/>
</g>
</g>

<!-- ===== Rule 22 ===== -->
<g id="rule22">
<text class="ti" x="533" y="1061" textLength="179" lengthAdjust="spacingAndGlyphs">22.-Conv_InitialState.</text>
<text class="hs" x="552" y="1082">LHS</text><text class="hs" x="797" y="1078">RHS</text>
<rect class="dash" x="532" y="1086" width="214" height="124" rx="20"/>
<rect class="dash" x="778" y="1085" width="300" height="125" rx="20"/>
<text class="eq" x="751" y="1177">::=</text>
<g id="r22L-chart"><rect class="bc" x="537" y="1095" width="203" height="106"/><text class="sc" x="538" y="1093">StateChart :</text><text class="r z5" x="571" y="1093">&lt;ANY&gt;</text></g>
<g id="r22L-init"><circle class="ini" cx="563" cy="1127" r="10"/></g>
<g id="r22L-sub"><rect class="subk" x="602" y="1130" width="93" height="45" rx="7"/><text class="r z10 c" x="636" y="1141">&lt;ANY&gt;</text><text class="z9" x="604" y="1152"><tspan class="r">Entry/</tspan><tspan class="k">  &lt;ANY&gt;</tspan></text><text class="z9" x="604" y="1164"><tspan class="r">Exit/</tspan><tspan class="k">  &lt;ANY&gt;</tspan></text></g>
<g id="r22R-chart"><rect class="bc" x="790" y="1095" width="203" height="108"/><text class="sc" x="791" y="1093">StateChart :</text><text class="r z5" x="824" y="1093">&lt;COPIED&gt;</text></g>
<g id="r22R-init"><circle class="ini" cx="816" cy="1126" r="10"/></g>
<g id="r22R-sub"><rect class="subk" x="854" y="1132" width="95" height="44" rx="7"/><text class="r z10 c" x="901" y="1143">&lt;COPIED&gt;</text><text class="z9" x="857" y="1154"><tspan class="r">Entry/</tspan><tspan class="k">  &lt;COPIED&gt;</tspan></text><text class="z9" x="857" y="1166"><tspan class="r">Exit/</tspan><tspan class="k">  &lt;COPIED&gt;</tspan></text></g>
<g id="r22R-e1"><ellipse class="el" cx="1028" cy="1143" rx="26" ry="12"/><text class="r z9 c" x="1028" y="1146">&lt;SPECIFIED&gt;</text></g>
<g id="r22-conn">
<path class="yl" d="M562,1095 L596,1124 L570,1127"/>
<path class="rd" d="M564,1129 Q568,1142 601,1142"/>
<path class="yl" d="M815,1095 L848,1124 L823,1127"/>
<path class="rd" d="M817,1128 Q821,1142 853,1142"/>
<path class="pu" d="M949,1146 L982,1144 L1002,1143"/>
</g>
</g>

<!-- ===== Rule 23 ===== -->
<g id="rule23">
<text class="ti" x="538" y="1233" textLength="291" lengthAdjust="spacingAndGlyphs">23.- Conv_ InitialCompositeState.</text>
<text class="hs" x="563" y="1255">LHS</text><text class="hs" x="821" y="1252">RHS</text>
<rect class="dash" x="544" y="1265" width="222" height="161" rx="24"/>
<rect class="dash" x="803" y="1264" width="241" height="161" rx="24"/>
<text class="eq" x="772" y="1358">::=</text>
<g id="r23L-chart"><rect class="bc" x="570" y="1275" width="155" height="146"/><text class="sc" x="575" y="1272">StateChart :</text></g>
<g id="r23L-init"><circle class="ini" cx="583" cy="1289" r="6.5"/></g>
<g id="r23L-state"><rect class="st" x="579" y="1310" width="100" height="87" rx="5"/><text class="r z5" x="584" y="1315">&lt;ANY&gt;</text><text class="z4" x="584" y="1386"><tspan class="r">Entry/</tspan><tspan class="k">&lt;ANY&gt;</tspan></text><text class="z4" x="584" y="1393"><tspan class="r">Exit/</tspan><tspan class="k">&lt;ANY&gt;</tspan></text></g>
<text class="v" x="597" y="1291">V = = 0</text>
<g id="r23R-chart"><rect class="bc" x="840" y="1281" width="142" height="134"/><text class="sc" x="843" y="1277">StateChart :</text></g>
<g id="r23R-init"><circle class="ini" cx="853" cy="1293" r="6"/></g>
<g id="r23R-state"><rect class="st" x="848" y="1312" width="92" height="80" rx="5"/><text class="r z5" x="853" y="1317">&lt;COPIED&gt;</text><text class="z4" x="852" y="1382"><tspan class="r">Entry/</tspan><tspan class="k">&lt;COPIED&gt;</tspan></text><text class="z4" x="852" y="1389"><tspan class="r">Exit/</tspan><tspan class="k">&lt;COPIED&gt;</tspan></text></g>
<text class="v" x="870" y="1300">V = 1</text>
<g id="r23-conn">
<path class="rd" d="M583,1289 L586,1309" stroke-width="1.2"/>
<path class="rd" d="M852,1294 L856,1311" stroke-width="1.2"/>
</g>
</g>
</svg>
